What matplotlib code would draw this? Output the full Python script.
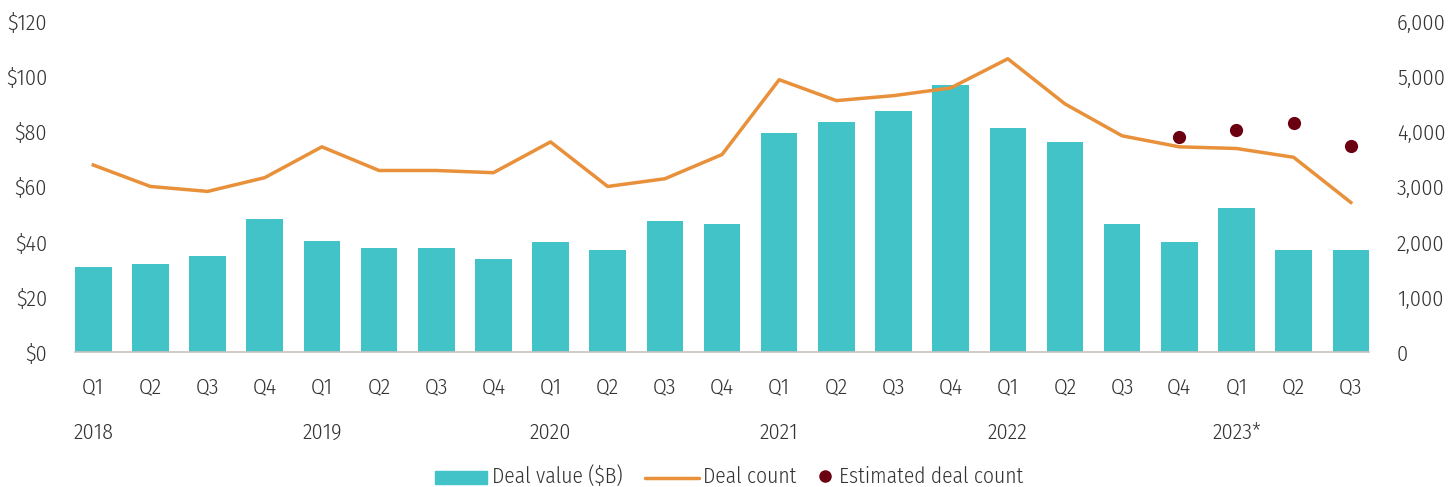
import matplotlib.pyplot as plt
import numpy as np
from matplotlib.patches import Rectangle
from matplotlib.lines import Line2D

plt.rcParams['font.family'] = ['Fira Sans Condensed', 'Fira Sans Extra Condensed', 'DejaVu Sans']
plt.rcParams['font.weight'] = 300

# 데이터
quarters = ['Q1', 'Q2', 'Q3', 'Q4'] * 5 + ['Q1', 'Q2', 'Q3']
years = ['2018', '2019', '2020', '2021', '2022', '2023*']
year_pos = [0, 4, 8, 12, 16, 20]
deal_value = [31, 32, 35, 48.5, 40.5, 38, 38, 34, 40, 37, 47.5, 46.5,
              79.5, 83.5, 87.5, 97, 81.5, 76.5, 46.5, 40, 52.5, 37, 37]
deal_count = [3400, 3010, 2920, 3170, 3730, 3300, 3300, 3260, 3820, 3010, 3150, 3590,
              4950, 4570, 4660, 4800, 5330, 4510, 3930, 3730, 3700, 3540, 2720]
est_idx = [19, 20, 21, 22]
est_count = [3900, 4040, 4170, 3740]

bar_c = '#41C3C8'
line_c = '#E8903A'
dot_c = '#6B0010'
txt_c = '#333333'

W, H = 1450, 487
x = np.arange(len(deal_value))
w = 0.64

fig = plt.figure(figsize=(W / 100, H / 100), dpi=100)
ax = fig.add_axes([0.0517, 0.277, 0.8925, 0.678])
ax2 = ax.twinx()

ax.bar(x, deal_value, width=w, color=bar_c, zorder=2)
ax2.plot(x, deal_count, color=line_c, lw=2.5, zorder=3)
ax2.scatter(est_idx, est_count, s=90, color=dot_c, zorder=4, linewidths=0)

ax.set_xlim(-w / 2, len(x) - 1 + w / 2)
ax.set_ylim(0, 120)
ax2.set_ylim(0, 6000)
ax.set_yticks(range(0, 121, 20))
ax.set_yticklabels(['$%d' % v for v in range(0, 121, 20)])
ax2.set_yticks(range(0, 6001, 1000))
ax2.set_yticklabels(['{:,}'.format(v) for v in range(0, 6001, 1000)])

ax.set_xticks(x)
ax.set_xticklabels(quarters)

fs = 16
# 연도 라벨
for p, yr in zip(year_pos, years):
    ax.text(p, -0.245, yr, transform=ax.get_xaxis_transform(), ha='center', va='center',
            fontsize=fs, color=txt_c)

for a in (ax, ax2):
    for s in a.spines.values():
        s.set_visible(False)
ax.spines['bottom'].set_visible(True)
ax.spines['bottom'].set_color('#C8C2BC')
ax.spines['bottom'].set_linewidth(1.2)
ax.spines['bottom'].set_zorder(5)

ax.tick_params(axis='y', length=0, pad=20, labelsize=fs, labelcolor=txt_c)
ax2.tick_params(axis='y', length=0, pad=20, labelsize=fs, labelcolor=txt_c)
ax.tick_params(axis='x', length=0, pad=17, labelsize=fs, labelcolor=txt_c)

# 범례 (직접 배치, 픽셀 기준)
lb = (H - 483) / H   # 글자 기준선
lfs = 15.5
fig.patches.append(Rectangle((435 / W, (H - 484) / H), 52 / W, 13 / H,
                             transform=fig.transFigure, color=bar_c))
fig.text(492 / W, lb, 'Deal value ($B)', fontsize=lfs, color=txt_c, va='baseline')
fig.lines.append(Line2D([645 / W, 699 / W], [(H - 478) / H] * 2, transform=fig.transFigure,
                        color=line_c, lw=2.5, solid_capstyle='round'))
fig.text(703 / W, lb, 'Deal count', fontsize=lfs, color=txt_c, va='baseline')
fig.lines.append(Line2D([825 / W], [(H - 476) / H], transform=fig.transFigure, marker='o',
                        ms=8, color=dot_c, ls=''))
fig.text(839 / W, lb, 'Estimated deal count', fontsize=lfs, color=txt_c, va='baseline')

fig.savefig('out.png', dpi=100)
